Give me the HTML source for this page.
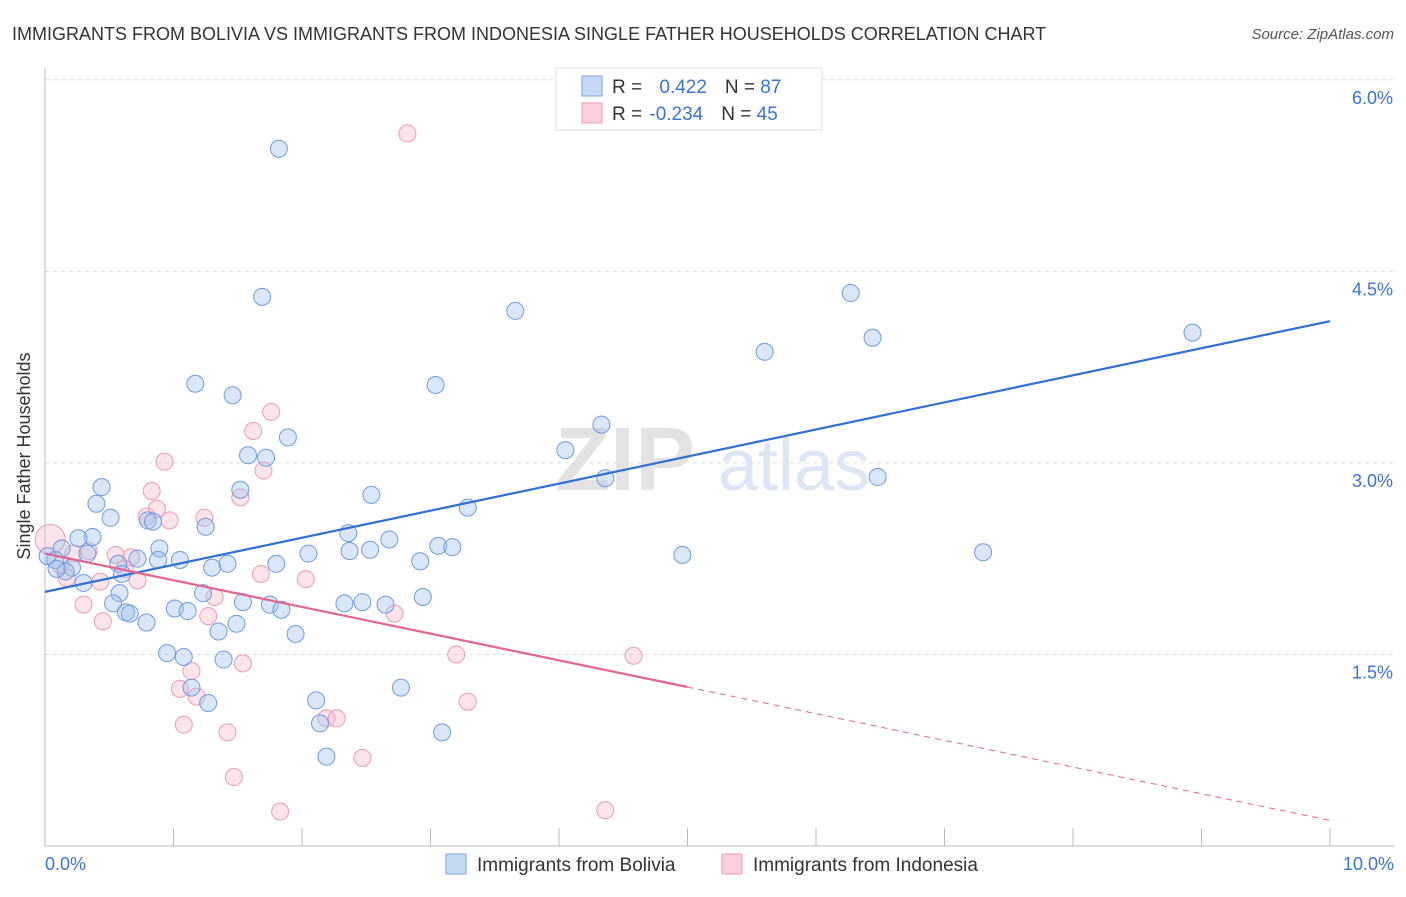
<!DOCTYPE html>
<html><head><meta charset="utf-8"><style>
body{margin:0;background:#fff;font-family:"Liberation Sans",sans-serif}
svg text{font-family:"Liberation Sans",sans-serif}
</style></head><body>
<svg width="1406" height="892">
<text x="12" y="40" font-size="18" fill="#333">IMMIGRANTS FROM BOLIVIA VS IMMIGRANTS FROM INDONESIA SINGLE FATHER HOUSEHOLDS CORRELATION CHART</text>
<text x="1394" y="39" font-size="15" fill="#555" font-style="italic" text-anchor="end">Source: ZipAtlas.com</text>
<g id="grid"></g>
<text x="555" y="490" font-size="90" fill="#e3e3e3" font-family="Liberation Serif" font-weight="bold">ZIP</text>
<text x="718" y="490" font-size="72" fill="#dce6f4">atlas</text>
<line x1="45" y1="68" x2="45" y2="846" stroke="#bbb"/>
<line x1="45" y1="846" x2="1395" y2="846" stroke="#bbb"/>
<text x="30" y="456" font-size="18" fill="#333" text-anchor="middle" transform="rotate(-90 30 456)">Single Father Households</text>
<text x="45" y="870" font-size="18" fill="#3b73d4">0.0%</text>
<text x="1394" y="870" font-size="18" fill="#3b73d4" text-anchor="end">10.0%</text>
<g id="pts"></g>
<g id="lines"></g>
<g>
<rect x="556" y="68" width="266" height="62" fill="#fff" stroke="#ddd"/>
<rect x="582" y="76" width="20" height="20" fill="#c5d9f5" stroke="#7aa3e0"/>
<rect x="582" y="103" width="20" height="20" fill="#fbd0dc" stroke="#ee9ab4"/>
<text x="612" y="93" font-size="19" fill="#333">R = <tspan fill="#3b73d4" dx="12">0.422</tspan><tspan dx="18">N = </tspan><tspan fill="#3b73d4">87</tspan></text>
<text x="612" y="120" font-size="19" fill="#333">R = <tspan fill="#3b73d4" dx="2">-0.234</tspan><tspan dx="18">N = </tspan><tspan fill="#3b73d4">45</tspan></text>
</g>
<g>
<rect x="446" y="854" width="20" height="20" fill="#c5d9f5" stroke="#7aa3e0"/>
<text x="477" y="871" font-size="19" fill="#333">Immigrants from Bolivia</text>
<rect x="722" y="854" width="20" height="20" fill="#fbd0dc" stroke="#ee9ab4"/>
<text x="753" y="871" font-size="19" fill="#333">Immigrants from Indonesia</text>
</g>
</svg>
<script>
const yTicks=[1.5,3.0,4.5,6.0];
const xTicks=[1,2,3,4,5,6,7,8,9,10];
const bolivia=[[1.82,5.46],[1.69,4.30],[3.66,4.19],[6.27,4.33],[8.93,4.02],[5.60,3.87],[6.44,3.98],[1.17,3.62],[1.46,3.53],[3.04,3.61],[1.89,3.20],[4.33,3.30],[4.05,3.10],[1.58,3.06],[1.72,3.04],[4.36,2.88],[6.48,2.89],[0.44,2.81],[1.52,2.79],[2.54,2.75],[0.40,2.68],[3.29,2.65],[0.51,2.57],[0.80,2.55],[0.84,2.54],[1.25,2.50],[2.36,2.45],[0.37,2.42],[0.26,2.41],[2.68,2.40],[0.89,2.33],[3.06,2.35],[3.17,2.34],[2.05,2.29],[2.37,2.31],[2.53,2.32],[4.96,2.28],[7.30,2.30],[0.13,2.33],[0.33,2.29],[0.02,2.27],[0.08,2.24],[0.72,2.25],[1.05,2.24],[0.88,2.24],[1.42,2.21],[0.57,2.21],[1.30,2.18],[2.92,2.23],[1.80,2.21],[0.21,2.18],[0.16,2.15],[0.60,2.13],[0.30,2.06],[0.09,2.17],[0.58,1.98],[1.23,1.98],[0.53,1.90],[1.54,1.91],[1.75,1.89],[1.01,1.86],[1.11,1.84],[2.33,1.90],[2.47,1.91],[2.65,1.89],[2.94,1.95],[1.84,1.85],[0.63,1.83],[0.66,1.82],[0.79,1.75],[1.49,1.74],[1.35,1.68],[1.95,1.66],[0.95,1.51],[1.08,1.48],[1.39,1.46],[1.14,1.24],[2.11,1.14],[2.77,1.24],[1.27,1.12],[2.14,0.96],[3.09,0.89],[2.19,0.70]];
const indonesia=[[2.82,5.58],[1.76,3.40],[1.62,3.25],[0.93,3.01],[1.70,2.94],[0.83,2.78],[1.52,2.73],[0.87,2.64],[0.97,2.55],[1.24,2.57],[0.79,2.58],[0.04,2.40],[0.34,2.31],[0.22,2.29],[0.55,2.28],[0.67,2.26],[0.17,2.10],[0.43,2.07],[0.72,2.08],[1.68,2.13],[2.03,2.09],[1.32,1.95],[2.72,1.82],[0.30,1.89],[0.45,1.76],[1.27,1.80],[3.20,1.50],[4.58,1.49],[1.14,1.37],[1.05,1.23],[1.18,1.17],[1.54,1.43],[1.08,0.95],[3.29,1.13],[1.42,0.89],[2.19,1.00],[2.27,1.00],[2.47,0.69],[1.47,0.54],[1.83,0.27],[4.36,0.28],[0.62,2.17],[0.12,2.20]];
const NS="http://www.w3.org/2000/svg";
const X0=45,X1=1330,Y0=846,YS=127.7;
function xs(v){return X0+(X1-X0)*v/10;}
function ys(v){return Y0-v*YS;}
function mk(t,a,p){const e=document.createElementNS(NS,t);for(const k in a)e.setAttribute(k,a[k]);p.appendChild(e);return e;}
const grid=document.getElementById('grid');
yTicks.forEach(t=>{
 const l=mk('line',{x1:45,x2:1395,y1:ys(t),y2:ys(t),stroke:'#ddd','stroke-dasharray':'4,4'},grid);
 
 
 const tx=mk('text',{x:1393,y:ys(t)+24,'font-size':18,fill:'#3b73d4','text-anchor':'end'},grid);
 tx.textContent=t.toFixed(1)+'%';
 
 
});
xTicks.forEach(t=>{
 const l=mk('line',{x1:xs(t),x2:xs(t),y1:828,y2:846,stroke:'#bbb'},grid);
 
 
});
const pts=document.getElementById('pts');
indonesia.forEach((d,i)=>{
 const c=mk('circle',{cx:xs(d[0]),cy:ys(d[1]),r:i==11?15:8.5,fill:'rgba(246,178,198,0.35)',stroke:'#ee9ab4','stroke-width':1},pts);
 
 
});
bolivia.forEach(d=>{
 const c=mk('circle',{cx:xs(d[0]),cy:ys(d[1]),r:8.5,fill:'rgba(160,194,240,0.4)',stroke:'#6e9be0','stroke-width':1},pts);
 
 
});
const lines=document.getElementById('lines');
const blueFit=[1.99,4.11], pinkFit=[2.29,0.2];
let l=mk('line',{x1:xs(0),y1:ys(blueFit[0]),x2:xs(10),y2:ys(blueFit[1]),stroke:'#2f6fd6','stroke-width':2.2},lines);


const pm=pinkFit[0]+(pinkFit[1]-pinkFit[0])*0.5;
l=mk('line',{x1:xs(0),y1:ys(pinkFit[0]),x2:xs(5),y2:ys(pm),stroke:'#e5648f','stroke-width':2.2},lines);


l=mk('line',{x1:xs(5),y1:ys(pm),x2:xs(10),y2:ys(pinkFit[1]),stroke:'#e5648f','stroke-width':1,'stroke-dasharray':'6,5'},lines);


</script>
</body></html>
